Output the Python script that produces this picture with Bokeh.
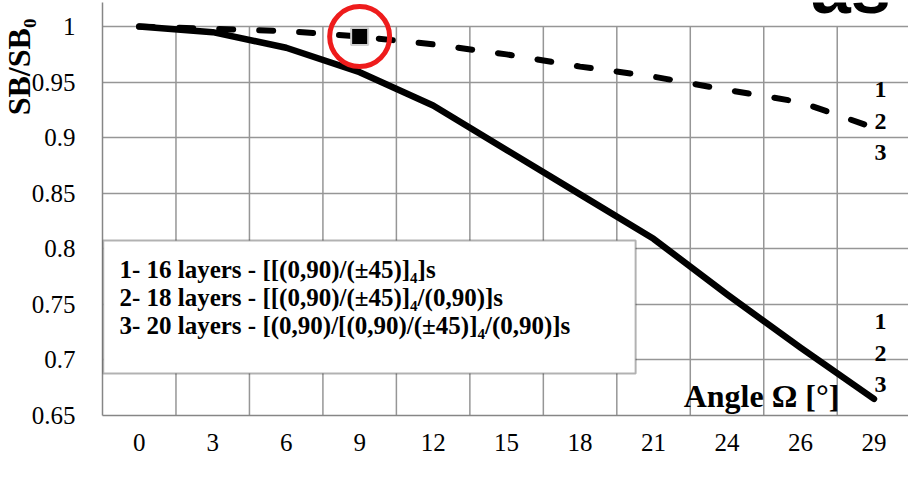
from math import pi

from bokeh.plotting import figure
from bokeh.models import (Range1d, FixedTicker, Label, BoxAnnotation,
                          Legend, LegendItem, Title)
from bokeh.embed import file_html
from bokeh.resources import INLINE

# Bending stiffness ratio SB/SB0 against the off-axis angle
angles = ["0", "3", "6", "9", "12", "15", "18", "21", "24", "26", "29"]
plain_weave = [1.0, 0.995, 0.981, 0.959, 0.929, 0.889, 0.849, 0.809, 0.759, 0.711, 0.665]
satin_weave = [1.0, 0.998, 0.996, 0.991, 0.984, 0.975, 0.964, 0.955, 0.943, 0.932, 0.909]
highlight_index = 3

y_ticks = [0.65, 0.7, 0.75, 0.8, 0.85, 0.9, 0.95, 1.0]
y_tick_labels = ["0.65", "0.7", "0.75", "0.8", "0.85", "0.9", "0.95", "1"]

stacking_notes = [
    "1- 16 layers - [[(0,90)/(±45)]₄]s",
    "2- 18 layers - [[(0,90)/(±45)]₄/(0,90)]s",
    "3- 20 layers - [(0,90)/[(0,90)/(±45)]₄/(0,90)]s",
]
curve_tags = ["1", "2", "3"]

SERIF = "Liberation Serif"
GRID = "#969696"

idx = list(range(len(angles)))

p = figure(frame_width=806, frame_height=413, output_backend="svg",
           toolbar_location=None,
           x_range=Range1d(-0.5, 10.47), y_range=Range1d(0.65, 1.0217),
           min_border_left=102, min_border_right=0,
           min_border_top=2, min_border_bottom=83)
p.outline_line_color = None
p.background_fill_color = "white"
p.border_fill_color = "white"

# axes
p.xaxis.ticker = FixedTicker(ticks=idx)
p.xaxis.major_label_overrides = {i: lab for i, lab in enumerate(angles)}
p.yaxis.ticker = FixedTicker(ticks=y_ticks)
p.yaxis.major_label_overrides = dict(zip(y_ticks, y_tick_labels))
for ax in (p.xaxis, p.yaxis):
    ax.axis_line_color = "#868686"
    ax.axis_line_width = 1.5
    ax.major_tick_line_color = None
    ax.minor_tick_line_color = None
    ax.major_label_text_font = SERIF
    ax.major_label_text_font_size = "25px"
    ax.major_label_text_color = "black"
    ax.axis_label_text_font_size = "0px"
    ax.axis_label_standoff = 0
p.xaxis.major_label_standoff = 12
p.yaxis.major_label_standoff = 21

# y title, pinned to the top of the left side
p.add_layout(Title(text="SB/SB₀", align="right", offset=16, standoff=-16,
                   text_font=SERIF, text_font_style="bold",
                   text_font_size="32px", text_color="black"), "left")

# grid: horizontal at the ticks, vertical between the angle categories
p.xgrid.visible = False
p.ygrid.ticker = FixedTicker(ticks=y_ticks)
p.ygrid.grid_line_color = GRID
p.ygrid.grid_line_width = 1.5
bounds = [i - 0.5 for i in idx[1:]]
p.segment(x0=bounds, y0=[y_ticks[0]] * len(bounds),
          x1=bounds, y1=[y_ticks[-1]] * len(bounds),
          line_color=GRID, line_width=1.5)

# series
r_plain = p.line(idx, plain_weave, line_color="black", line_width=6.5,
                 line_join="round", line_cap="round")
r_satin = p.line(idx, satin_weave, line_color="black", line_width=6,
                 line_dash="14 26", line_cap="round")

# highlighted satin point
hx = [idx[highlight_index]]
hy = [satin_weave[highlight_index]]
p.scatter(hx, hy, marker="square", size=17, fill_color="black",
          line_color="#d0d0d0", line_width=2)
p.scatter(hx, hy, marker="circle", size=60, fill_color=None,
          line_color="#ee1c1c", line_width=5)

# series legend under the axis, lifted from the bottom of its panel
legend = Legend(
    items=[LegendItem(label="plain weave", renderers=[r_plain]),
           LegendItem(label="satin weave", renderers=[r_satin])],
    orientation="horizontal", location=(76, 15),
    glyph_width=72, glyph_height=30, label_height=30, label_width=212,
    label_standoff=5, spacing=86, padding=0, margin=0,
    border_line_color=None, background_fill_alpha=0,
    label_text_font=SERIF, label_text_font_size="26px",
    label_text_color="black")
p.add_layout(legend, "below")

# lay-up description box
p.add_layout(BoxAnnotation(left=-0.49, right=6.756, top=0.8075, bottom=0.6878,
                           fill_color="white", fill_alpha=1.0,
                           line_color="black", line_width=2))
for note, y in zip(stacking_notes, [0.781, 0.7558, 0.7306]):
    p.add_layout(Label(x=-0.27, y=y, text=note, text_font=SERIF,
                       text_font_style="bold", text_font_size="25px",
                       text_baseline="middle", text_color="black"))

# tags at the curve ends
for tag, y in zip(curve_tags, [0.9434, 0.9146, 0.8867]):
    p.add_layout(Label(x=10.09, y=y, text=tag, text_font=SERIF,
                       text_font_style="bold", text_font_size="24px",
                       text_align="center", text_baseline="middle",
                       text_color="black"))
for tag, y in zip(curve_tags, [0.7346, 0.7058, 0.6779]):
    p.add_layout(Label(x=10.09, y=y, text=tag, text_font=SERIF,
                       text_font_style="bold", text_font_size="24px",
                       text_align="center", text_baseline="middle",
                       text_color="black"))

# x title inside the frame
p.add_layout(Label(x=7.41, y=0.668, text="Angle Ω [°]", text_font=SERIF,
                   text_font_style="bold", text_font_size="32px",
                   text_baseline="middle", text_color="black"))

# heading running off the top edge
p.add_layout(Label(x=9.14, y=1.0352, text="as", text_font="Liberation Sans",
                   text_font_style="bold", text_font_size="72px",
                   text_baseline="middle", text_color="black"))

open("out.html", "w").write(file_html(p, INLINE))
